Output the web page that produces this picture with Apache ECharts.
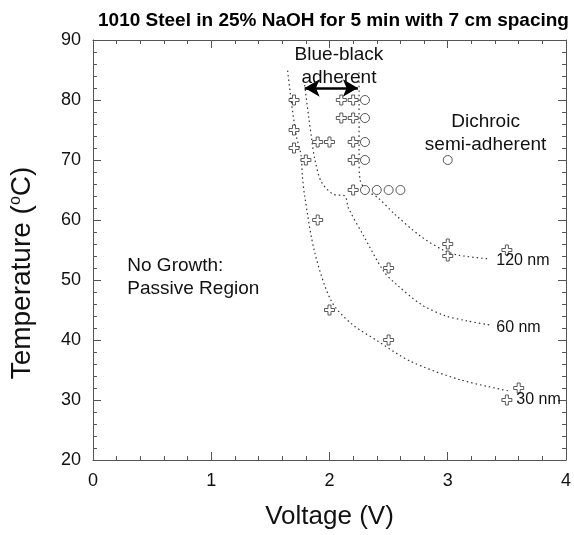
<!DOCTYPE html>
<html><head><meta charset="utf-8">
<script src="https://cdn.jsdelivr.net/npm/echarts@6/dist/echarts.min.js"></script>
<style>html,body{margin:0;padding:0;background:#fff}#c{width:574px;height:535px}</style>
</head><body><div id="c"></div>
<script>
// ---- data ----
const crossPts = [
  [1.7,80],[2.1,80],[2.2,80],
  [2.1,77],[2.2,77],
  [1.7,75],
  [1.9,73],[2.0,73],[2.2,73],
  [1.7,72],
  [1.8,70],[2.2,70],
  [2.2,65],
  [1.9,60],
  [3.0,56],[3.5,55],[3.0,54],
  [2.5,52],
  [2.0,45],
  [2.5,40],
  [3.6,32],[3.5,30]
];
const circlePts = [
  [2.3,80],[2.3,77],[2.3,73],[2.3,70],
  [2.3,65],[2.4,65],[2.5,65],[2.6,65],
  [3.0,70]
];
const curve120 = [[2.25,84.6],[2.25,77],[2.25,70],[2.26,66.6],[2.31,65],[2.41,63.7],[2.55,61],[2.77,57.3],[2.97,54.9],[3.1,54.1],[3.36,53.5]];
const curve60  = [[1.79,82.5],[1.825,77],[1.85,73.4],[1.875,70.2],[1.93,66.4],[2.03,64.3],[2.13,64],[2.16,62],[2.29,57.3],[2.46,51.4],[2.57,49.2],[2.77,46],[2.97,44.1],[3.16,43.2],[3.36,42.5]];
const curve30  = [[1.646,84.9],[1.68,79.3],[1.72,74],[1.76,70.7],[1.77,67.5],[1.79,64],[1.875,54.6],[2.015,46.5],[2.18,42.8],[2.41,39.8],[2.69,36.4],[3.1,33.4],[3.52,31.5]];
const arrowSpan = [[1.79,82],[2.24,82]];
const curveLabels = ['120 nm','60 nm','30 nm'];
const titleText = '1010 Steel in 25% NaOH for 5 min with 7 cm spacing';
const xName = 'Voltage (V)';

const FONT = '"Liberation Sans", Arial, sans-serif';
const chart = echarts.init(document.getElementById('c'), null, {renderer:'canvas'});

const crossPath = 'path://M3.5,0 L6.5,0 L6.5,3.5 L10,3.5 L10,6.5 L6.5,6.5 L6.5,10 L3.5,10 L3.5,6.5 L0,6.5 L0,3.5 L3.5,3.5 Z';

function axisCommon(showLabels){
  return {
    axisLine:{show:true,onZero:false,lineStyle:{color:'#555',width:1}},
    axisTick:{show:true,inside:true,length:8,lineStyle:{color:'#555',width:1}},
    minorTick:{show:true,splitNumber:5,length:4,lineStyle:{color:'#555',width:1}},
    splitLine:{show:false},
    axisLabel:{show:showLabels,fontSize:18,color:'#111',fontFamily:FONT,margin:12}
  };
}
const curveStyle = {color:'#333',width:1.2,type:[1.5,3]};

const option = {
  animation:false,
  backgroundColor:'#fff',
  title:{text:titleText,left:93,top:6,textStyle:{fontSize:19,fontWeight:'bold',color:'#000',fontFamily:FONT}},
  grid:{left:93,right:4,top:40,bottom:59,containLabel:false},
  xAxis:[
    Object.assign({type:'value',min:0,max:4,interval:1,position:'bottom',
      name:xName,nameLocation:'middle',nameGap:44,
      nameTextStyle:{fontSize:26,color:'#111',fontFamily:FONT}}, axisCommon(true)),
    Object.assign({type:'value',min:0,max:4,interval:1,position:'top'}, axisCommon(false))
  ],
  yAxis:[
    Object.assign({type:'value',min:20,max:90,interval:10,position:'left'}, axisCommon(true)),
    Object.assign({type:'value',min:20,max:90,interval:10,position:'right'}, axisCommon(false))
  ],
  series:[
    {type:'line',data:curve120,showSymbol:false,symbol:'none',smooth:0.3,lineStyle:curveStyle,z:2},
    {type:'line',data:curve60,showSymbol:false,symbol:'none',smooth:0.3,lineStyle:curveStyle,z:2},
    {type:'line',data:curve30,showSymbol:false,symbol:'none',smooth:0.3,lineStyle:curveStyle,z:2,
      markLine:{silent:true,symbol:['arrow','arrow'],symbolSize:[13,15],
        label:{show:false},
        lineStyle:{type:'solid',color:'#000',width:2.5},
        data:[[{coord:arrowSpan[0]},{coord:arrowSpan[1]}]]}},
    {type:'scatter',data:crossPts,symbol:crossPath,symbolSize:10,
      itemStyle:{color:'#fff',borderColor:'#333',borderWidth:1},z:5},
    {type:'scatter',data:circlePts,symbol:'circle',symbolSize:9,
      itemStyle:{color:'#fff',borderColor:'#333',borderWidth:1},z:5}
  ]
};
chart.setOption(option);

// text annotations anchored in data coordinates
const annotations = [
  {t:'Blue-black\nadherent', at:[2.08,85.7], align:'center', size:19},
  {t:'Dichroic\nsemi-adherent', at:[3.32,74.5], align:'center', size:19},
  {t:'No Growth:\nPassive Region', at:[0.29,50.5], align:'left', size:19},
  {t:curveLabels[0], at:[3.41,53.2], align:'left', size:16},
  {t:curveLabels[1], at:[3.41,42.0], align:'left', size:16},
  {t:curveLabels[2], at:[3.58,30.1], align:'left', size:16}
];
const els = annotations.map(a=>{
  const p = chart.convertToPixel({xAxisIndex:0,yAxisIndex:0}, a.at);
  return {type:'text',x:p[0],y:p[1],z:10,style:{text:a.t,fill:'#111',
    font:a.size+'px '+FONT,align:a.align,verticalAlign:'middle',lineHeight:Math.round(a.size*1.2)}};
});
// y-axis title with superscript degree sign
els.push({type:'text',x:22,y:273,rotation:Math.PI/2,z:10,
  style:{text:'{n|Temperature (}{s|o}{n|C)}',align:'center',verticalAlign:'middle',
    rich:{n:{fontSize:28,fill:'#111',fontFamily:FONT},
          s:{fontSize:16,fill:'#111',fontFamily:FONT,verticalAlign:'top',padding:[0,0,13,0]}}}});
chart.setOption({graphic:els});
</script></body></html>
